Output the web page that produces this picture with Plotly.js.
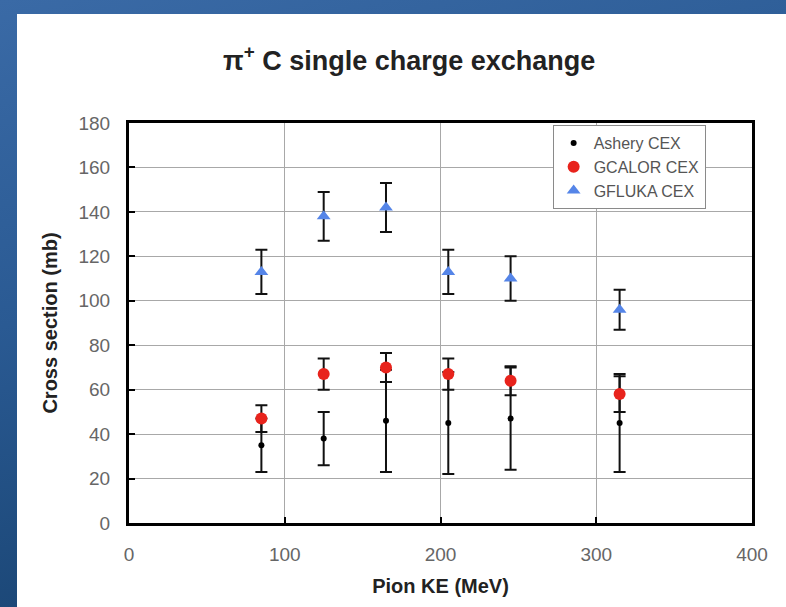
<!DOCTYPE html>
<html>
<head>
<meta charset="utf-8">
<script src="https://cdn.plot.ly/plotly-3.0.1.min.js"></script>
<style>
  html, body { margin: 0; padding: 0; width: 786px; height: 607px; overflow: hidden; }
  body { background: linear-gradient(165deg, #3a6aa6 0%, #2a5a93 40%, #1c4878 75%, #123a60 100%); position: relative; }
  #chart { position: absolute; left: 17px; top: 14px; width: 769px; height: 593px; background: #ffffff; }
</style>
</head>
<body>
<div id="chart"></div>
<script>
// Pion kinetic energy (MeV)
const energy = [85, 125, 165, 205, 245, 315];
// Ashery CEX measurement (mb) and errors
const ashery = [35, 38, 46, 45, 47, 45];
const asheryErr = [12, 12, 23, 23, 23, 22];
// GCALOR CEX (mb) and errors
const gcalor = [47, 67, 70, 67, 64, 58];
const gcalorErr = [6, 7, 6.5, 7, 6.5, 8];
// GFLUKA CEX (mb) and errors
const gfluka = [113, 138, 142, 113, 110, 96];
const gflukaErr = [10, 11, 11, 10, 10, 9];

const seriesNames = ['Ashery CEX', 'GCALOR CEX', 'GFLUKA CEX'];

const FONT = '"Liberation Sans", Arial, sans-serif';
const errStyle = { type: 'data', visible: true, color: '#111111', thickness: 2, width: 6 };

const traces = [
  {
    x: energy, y: ashery, name: seriesNames[0], type: 'scatter', mode: 'markers',
    marker: { color: '#000000', size: 6, symbol: 'circle' },
    error_y: Object.assign({ array: asheryErr }, errStyle)
  },
  {
    x: energy, y: gcalor, name: seriesNames[1], type: 'scatter', mode: 'markers',
    marker: { color: '#e8231c', size: 12, symbol: 'circle' },
    error_y: Object.assign({ array: gcalorErr }, errStyle)
  },
  {
    x: energy, y: gfluka, name: seriesNames[2], type: 'scatter', mode: 'markers',
    marker: { color: '#5585e8', size: 12, symbol: 'triangle-up' },
    error_y: Object.assign({ array: gflukaErr }, errStyle)
  }
];

const layout = {
  width: 769, height: 593,
  paper_bgcolor: '#ffffff', plot_bgcolor: '#ffffff',
  margin: { l: 112, r: 34, t: 109, b: 84 },
  font: { family: FONT, color: '#666666' },
  title: {
    text: 'π<sup>+</sup> C single charge exchange',
    font: { family: FONT, size: 27, color: '#222222', weight: 'bold' },
    x: 0.51, xref: 'container', xanchor: 'center',
    y: 0.922, yref: 'container', yanchor: 'middle'
  },
  xaxis: {
    range: [0, 400], dtick: 100, tick0: 0,
    showgrid: true, gridcolor: '#a8a8a8', gridwidth: 1,
    zeroline: false,
    showline: true, linecolor: '#000000', linewidth: 3, mirror: true,
    ticks: 'inside', ticklen: 6, tickwidth: 2, tickcolor: '#000000',
    tickfont: { family: FONT, size: 19, color: '#666666' },
    ticklabelstandoff: 12,
    title: { text: 'Pion KE (MeV)', font: { family: FONT, size: 20, color: '#222222', weight: 'bold' }, standoff: 16 }
  },
  yaxis: {
    range: [0, 180], dtick: 20, tick0: 0,
    showgrid: true, gridcolor: '#a8a8a8', gridwidth: 1,
    zeroline: false,
    showline: true, linecolor: '#000000', linewidth: 3, mirror: true,
    ticks: 'inside', ticklen: 6, tickwidth: 2, tickcolor: '#000000',
    tickfont: { family: FONT, size: 19, color: '#666666' },
    ticklabelstandoff: 12,
    title: { text: 'Cross section (mb)', font: { family: FONT, size: 20, color: '#222222', weight: 'bold' }, standoff: 16 }
  },
  legend: {
    x: 0.68, y: 0.995, xanchor: 'left', yanchor: 'top',
    bgcolor: '#ffffff', bordercolor: '#8a8a8a', borderwidth: 1,
    font: { family: FONT, size: 16, color: '#555555' },
    itemwidth: 30, tracegroupgap: 0
  },
  showlegend: true
};

Plotly.newPlot('chart', traces, layout, { displayModeBar: false, staticPlot: true });
</script>
</body>
</html>
